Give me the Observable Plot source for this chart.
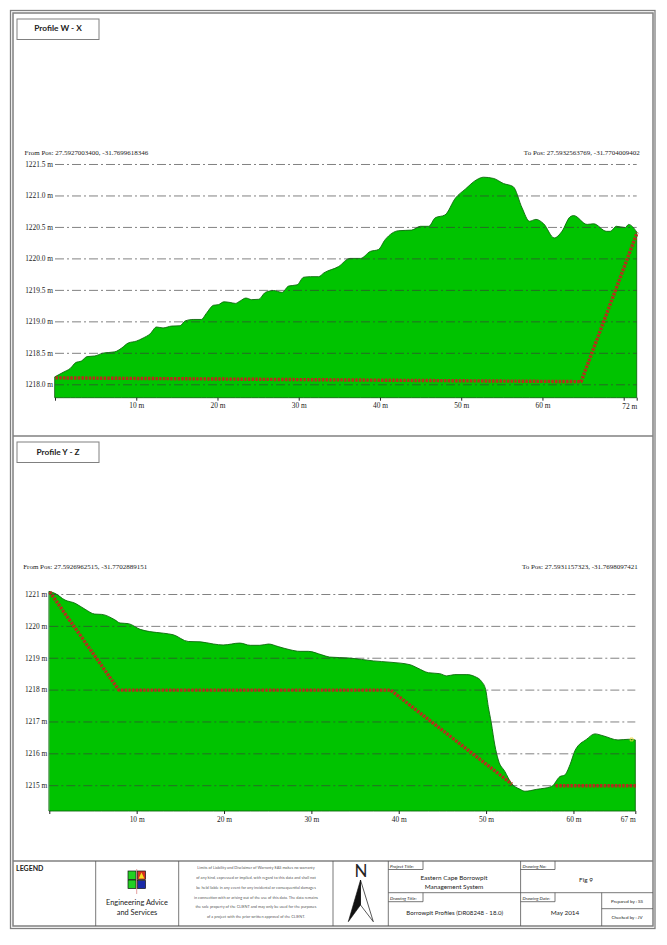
<!DOCTYPE html>
<html>
<head>
<meta charset="utf-8">
<script src="https://cdn.jsdelivr.net/npm/d3@7"></script>
<script src="https://cdn.jsdelivr.net/npm/@observablehq/plot@0.6"></script>
<style>
  html, body { margin: 0; background: #fff; }
  #page { position: relative; width: 667px; height: 945px; overflow: hidden; }
  #sheet { position: absolute; left: 0; top: 0; }
  #sheet text { font-family: Lato, "Noto Sans", sans-serif; fill: #222; }
  .chart { position: absolute; left: 0; }
  .chart svg { display: block; }
</style>
</head>
<body>
<div id="page">
  <!-- Marco de la lamina y rotulo -->
  <svg id="sheet" width="667" height="945" viewBox="0 0 667 945">
    <g fill="none" stroke="#808080">
      <rect x="10.5" y="10.5" width="644.5" height="918" stroke-width="1.3"/>
      <rect x="13" y="13" width="640" height="913" stroke-width="1.5"/>
      <line x1="13" x2="653" y1="436" y2="436" stroke-width="1.5"/>
      <line x1="13" x2="653" y1="861" y2="861" stroke-width="1.5"/>
      <rect x="17" y="19" width="82" height="20.5"/>
      <rect x="17" y="442" width="82" height="20.5"/>
    </g>
    <g fill="none" stroke="#555" stroke-width="0.8">
      <line x1="95.7" x2="95.7" y1="861" y2="926"/>
      <line x1="178.7" x2="178.7" y1="861" y2="926"/>
      <line x1="333" x2="333" y1="861" y2="926"/>
      <line x1="388.3" x2="388.3" y1="861" y2="926"/>
      <line x1="520.6" x2="520.6" y1="861" y2="926"/>
      <line x1="388.3" x2="653" y1="892.7" y2="892.7"/>
      <line x1="601.7" x2="601.7" y1="892.7" y2="926"/>
      <line x1="601.7" x2="653" y1="908.7" y2="908.7"/>
      <path d="M388.3 869.5H423V861M388.3 901.7H423V892.7M520.6 869.5H555V861M520.6 901.7H555V892.7"/>
    </g>
    <text x="58" y="29" font-size="8.3" font-weight="700" text-anchor="middle" dominant-baseline="middle">Profile W - X</text>
    <text x="58" y="452.5" font-size="8.3" font-weight="700" text-anchor="middle" dominant-baseline="middle">Profile Y - Z</text>
    <text x="16" y="871" font-size="7" font-weight="700">LEGEND</text>

    <!-- Logo -->
    <g stroke="#111" stroke-width="0.7">
      <rect x="128" y="871" width="8" height="8.5" fill="#22d022"/>
      <rect x="128" y="880" width="8" height="8.5" fill="#22d022"/>
      <rect x="137.5" y="871" width="8" height="8.5" fill="#d8301f"/>
      <path d="M141.5 872.5L144.3 878.5H138.7Z" fill="#f5e020" stroke="none"/>
      <rect x="137.5" y="880.5" width="8" height="8" fill="#1a2aa8"/>
    </g>
    <line x1="136.7" x2="136.7" y1="869" y2="894" stroke="#c44" stroke-width="0.5"/>
    <text x="137" y="905" font-size="7.4" text-anchor="middle">Engineering Advice</text>
    <text x="137" y="914.5" font-size="7.4" text-anchor="middle">and Services</text>

    <!-- Descargo -->
    <g font-size="3.9" text-anchor="middle" fill-opacity="0.8">
      <text x="256" y="868.5">Limits of Liability and Disclaimer of Warranty EAS makes no warranty</text>
      <text x="256" y="878.5">of any kind, expressed or implied, with regard to this data and shall not</text>
      <text x="256" y="888.5">be held liable in any event for any incidental or consequential damages</text>
      <text x="256" y="898.5">in connection with or arising out of the use of this data. The data remains</text>
      <text x="256" y="908">the sole property of the CLIENT and may only be used for the purposes</text>
      <text x="256" y="918">of a project with the prior written approval of the CLIENT.</text>
    </g>

    <!-- Norte -->
    <text x="361" y="877" font-size="17" text-anchor="middle">N</text>
    <path d="M360.5 880L348.3 921.7L360.5 905Z" fill="#111" stroke="#111" stroke-width="0.6"/>
    <path d="M360.5 880L373.3 921.7L360.5 905Z" fill="none" stroke="#111" stroke-width="0.7"/>

    <g font-size="4.6" font-style="italic">
      <text x="390" y="867.5">Project Title:</text>
      <text x="390" y="899.5">Drawing Title:</text>
      <text x="522.5" y="867.5">Drawing No:</text>
      <text x="522.5" y="899.5">Drawing Date:</text>
    </g>
    <g font-size="6.4" text-anchor="middle">
      <text x="454" y="880">Eastern Cape Borrowpit</text>
      <text x="454" y="888.5">Management System</text>
      <text x="454.7" y="915" font-size="6.1">Borrowpit Profiles (DR08248 - 18.0)</text>
      <text x="586" y="882">Fig 9</text>
      <text x="565" y="915">May 2014</text>
    </g>
    <g font-size="4.5" text-anchor="middle">
      <text x="627" y="902.5">Prepared by : SS</text>
      <text x="627" y="918.5">Checked by : JV</text>
    </g>
  </svg>
  <div id="chart1" class="chart" style="top:124px"></div>
  <div id="chart2" class="chart" style="top:554px"></div>
</div>

<script>
// Perfil W - X
const dist1 = [0, 1, 1.9, 2.55, 3.25, 3.95, 4.9, 5.9, 7.35, 8.2, 9, 10, 10.85, 11.7, 12.5, 13.3, 14.35, 15.4, 16, 17, 18, 18.65, 19.5, 20.1, 20.8, 21.55, 22.2, 22.8, 23.5, 24.2, 25.05, 25.9, 26.9, 27.95, 28.75, 29.8, 30.6, 31.45, 32.45, 33.1, 34.9, 36.3, 37.6, 38.8, 39.8, 40.65, 42.3, 43.9, 45, 46, 46.8, 48, 49.3, 50.5, 51.9, 52.75, 54, 55.2, 56.4, 57.5, 58.4, 59.2, 60.15, 61.45, 62.4, 63.4, 63.85, 65.5, 66.3, 67.9, 68.35, 69.1, 70.2, 70.6, 71.6]
const elev1 = [1218.12, 1218.19, 1218.255, 1218.345, 1218.37, 1218.44, 1218.45, 1218.495, 1218.515, 1218.575, 1218.655, 1218.685, 1218.735, 1218.8, 1218.91, 1218.895, 1218.925, 1218.93, 1219.005, 1219.03, 1219.03, 1219.13, 1219.255, 1219.265, 1219.31, 1219.3, 1219.285, 1219.325, 1219.37, 1219.345, 1219.35, 1219.46, 1219.49, 1219.46, 1219.56, 1219.58, 1219.7, 1219.71, 1219.71, 1219.77, 1219.87, 1220, 1220, 1220.11, 1220.14, 1220.3, 1220.44, 1220.45, 1220.51, 1220.51, 1220.645, 1220.69, 1220.96, 1221.1, 1221.25, 1221.29, 1221.27, 1221.19, 1221.14, 1220.8, 1220.59, 1220.62, 1220.55, 1220.325, 1220.43, 1220.66, 1220.68, 1220.54, 1220.55, 1220.43, 1220.43, 1220.51, 1220.49, 1220.54, 1220.42]
const cutDist1 = [0, 64.7, 71.6]
const cutElev1 = [1218.11, 1218.05, 1220.42]
const yTicks1 = [1218, 1218.5, 1219, 1219.5, 1220, 1220.5, 1221, 1221.5]
const xTicks1 = [0, 10, 20, 30, 40, 50, 60, 70, 71.6]

// Perfil Y - Z
const dist2 = [0, 0.65, 1.8, 2.95, 4.1, 5.2, 6, 7.5, 8.1, 9.05, 10.4, 11.5, 13.05, 14.2, 15.9, 17.25, 18.8, 19.9, 21.8, 23, 24.1, 25.1, 26.2, 27.55, 28.7, 29.65, 31.2, 32.1, 34.4, 37.1, 39, 41.3, 42.2, 43.4, 44.7, 45.5, 46.4, 47.8, 48.7, 49.5, 49.95, 50.25, 50.6, 51, 51.4, 52.15, 52.9, 53.9, 54.45, 55.8, 57.5, 58.45, 59, 59.6, 60.2, 61.5, 62.45, 63.4, 65.1, 66.3, 67.08]
const elev2 = [1221.08, 1221.02, 1220.81, 1220.71, 1220.52, 1220.37, 1220.36, 1220.19, 1220.09, 1220.07, 1219.89, 1219.82, 1219.77, 1219.72, 1219.51, 1219.5, 1219.43, 1219.4, 1219.46, 1219.39, 1219.39, 1219.43, 1219.35, 1219.25, 1219.2, 1219.2, 1219.09, 1219.02, 1218.99, 1218.9, 1218.86, 1218.78, 1218.67, 1218.53, 1218.5, 1218.43, 1218.47, 1218.47, 1218.41, 1218.25, 1218, 1217.47, 1216.95, 1216.26, 1215.79, 1215.43, 1215.06, 1214.87, 1214.81, 1214.87, 1214.96, 1215.27, 1215.32, 1215.64, 1216.1, 1216.44, 1216.61, 1216.55, 1216.42, 1216.44, 1216.42]
const cutDist2 = [0, 7.9, 39, 52.9, 55, 57.9, 67.08]
const cutElev2 = [1221.08, 1218, 1218, 1215.05, null, 1215, 1215]
const yTicks2 = [1215, 1216, 1217, 1218, 1219, 1220, 1221]
const xTicks2 = [0, 10, 20, 30, 40, 50, 60, 67.08]
const endDist2 = [66.6]
const endElev2 = [1216.45]

const serif = '"Liberation Serif", serif'

function profileChart(o) {
  return Plot.plot({
    width: 667,
    height: o.height,
    marginLeft: o.marginLeft,
    marginRight: o.marginRight,
    marginTop: 40,
    marginBottom: 30,
    style: { background: 'transparent', overflow: 'visible', color: '#222' },
    x: { domain: [0, d3.max(o.dist)] },
    y: { domain: [o.base, o.top] },
    marks: [
      Plot.areaY(o.elev, { x: o.dist, y1: o.base, y2: o.elev, curve: 'monotone-x', fill: '#00c300', stroke: '#0c6a0c', strokeWidth: 0.9 }),
      Plot.ruleY(o.yTicks, { stroke: '#3a3a3a', strokeWidth: 0.8, strokeDasharray: '9 3 2 3', strokeOpacity: 0.8 }),
      // Plot pone linecap redondo por defecto y eso tapa los huecos
      Plot.line(o.cutDist, { x: o.cutDist, y: o.cutElev, stroke: '#b4301a', strokeWidth: 3.4, strokeDasharray: '2.5 1.2', strokeLinecap: 'butt' }),
      ...(o.marks || []),
      Plot.axisY({ ticks: o.yTicks, tickSize: 0, tickPadding: 2.5, tickFormat: o.yFormat, label: null, fontFamily: serif, fontSize: 7.4 }),
      Plot.axisX({ ticks: o.xTicks, tickSize: 3, tickPadding: 2, tickFormat: d => (d > 0 && d <= 60 ? d + ' m' : ''), label: null, fontFamily: serif, fontSize: 7.4 }),
      Plot.text([o.endLabel], { frameAnchor: 'bottom-right', lineAnchor: 'middle', dy: 8.5, fontFamily: serif, fontSize: 7.4 }),
      Plot.text([o.fromPos], { frameAnchor: 'top-left', lineAnchor: 'middle', dx: o.fromDx, dy: o.textDy, fontFamily: serif, fontSize: 7 }),
      Plot.text([o.toPos], { frameAnchor: 'top-right', lineAnchor: 'middle', dx: o.toDx, dy: o.textDy, fontFamily: serif, fontSize: 7 }),
    ],
  })
}

const chart1 = profileChart({
  dist: dist1, elev: elev1, cutDist: cutDist1, cutElev: cutElev1,
  yTicks: yTicks1, xTicks: xTicks1,
  yFormat: d => d.toFixed(1) + ' m',
  base: 1217.787, top: 1221.5,
  height: 303.7, marginLeft: 55, marginRight: 30.3,
  endLabel: '72 m', textDy: -11.3, fromDx: -31, toDx: 2.6,
  fromPos: 'From Pos: 27.5927003400, -31.7699618346',
  toPos: 'To Pos: 27.5932563769, -31.7704009402',
})

const chart2 = profileChart({
  dist: dist2, elev: elev2, cutDist: cutDist2, cutElev: cutElev2,
  yTicks: yTicks2, xTicks: xTicks2,
  yFormat: d => d + ' m',
  base: 1214.19, top: 1221,
  height: 287, marginLeft: 49.3, marginRight: 31.7,
  endLabel: '67 m', textDy: -27.5, fromDx: -26.6, toDx: 2,
  fromPos: 'From Pos: 27.5926962515, -31.7702889151',
  toPos: 'To Pos: 27.5931157323, -31.7698097421',
  marks: [
    Plot.dot(endDist2, { x: endDist2, y: endElev2, symbol: 'square', r: 1.6, fill: 'none', stroke: '#e8d83a', strokeWidth: 0.9 }),
  ],
})

document.getElementById('chart1').append(chart1)
document.getElementById('chart2').append(chart2)
</script>
</body>
</html>
